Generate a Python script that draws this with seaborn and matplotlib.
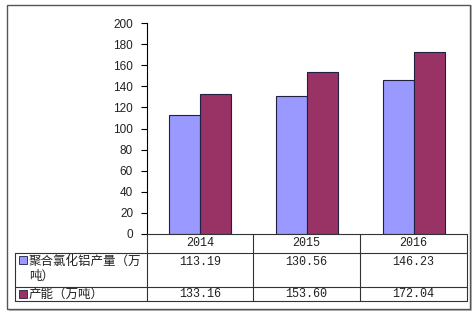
import matplotlib
matplotlib.use("Agg")
import matplotlib.pyplot as plt
import seaborn as sns
import pandas as pd
from matplotlib.patches import Rectangle
from matplotlib.lines import Line2D

years = ["2014", "2015", "2016"]
series_names = ["聚合氯化铝产量（万吨）", "产能（万吨）"]
row_labels = ["聚合氯化铝产量（万\n吨）", "产能（万吨）"]
output_vals = [113.19, 130.56, 146.23]
capacity_vals = [133.16, 153.60, 172.04]
y_ticks = [0, 20, 40, 60, 80, 100, 120, 140, 160, 180, 200]
colors = ["#9999FF", "#993366"]

sns.set_theme(style="white")
plt.rcParams["font.family"] = ["Noto Sans CJK SC", "DejaVu Sans"]

df = pd.DataFrame({
    "year": years * 2,
    "value": output_vals + capacity_vals,
    "series": [series_names[0]] * 3 + [series_names[1]] * 3,
})

W, H = 476, 314
fig = plt.figure(figsize=(W / 100, H / 100), dpi=100)
fig.patch.set_facecolor("white")

def fx(px):
    return px / W

def fy(py):
    return 1 - py / H

ax_l, ax_r, ax_t, ax_b = 147, 467, 23, 234
ax = fig.add_axes([fx(ax_l), fy(ax_b), fx(ax_r - ax_l), (ax_b - ax_t) / H])
sns.barplot(data=df, x="year", y="value", hue="series", palette=colors,
            width=0.58, edgecolor="#202040", linewidth=0.8, ax=ax,
            legend=False, saturation=1)
ax.set_ylim(0, 200)
ax.set_xlim(-0.5, 2.5)
ax.set_yticks(y_ticks)
ax.set_yticklabels([str(t) for t in y_ticks], fontsize=8.5, family="Liberation Sans", color="#222222")
ax.set_xticks([])
ax.set_xlabel("")
ax.set_ylabel("")
for s in ["top", "right", "bottom"]:
    ax.spines[s].set_visible(False)
ax.spines["left"].set_color("black")
ax.spines["left"].set_linewidth(0.8)
ax.tick_params(axis="y", direction="out", length=4, width=0.8, color="black", left=True, pad=6)

# outer frame with shadow
fig.add_artist(Rectangle((fx(9), fy(311)), fx(463), 306 / H, transform=fig.transFigure,
                         facecolor="#bbbbbb", edgecolor="none", zorder=-2))
fig.add_artist(Rectangle((fx(7), fy(309)), fx(463), 304 / H, transform=fig.transFigure,
                         facecolor="white", edgecolor="#555555", linewidth=1.0, zorder=-1))

# data table
col_edges = [15, 147, 253, 360, 467]
row_edges = [234, 253, 287, 301]
lc = "#333333"
lw = 0.8

def hline(y, x0, x1):
    fig.add_artist(Line2D([fx(x0), fx(x1)], [fy(y), fy(y)], color=lc, lw=lw, transform=fig.transFigure))

def vline(x, y0, y1):
    fig.add_artist(Line2D([fx(x), fx(x)], [fy(y0), fy(y1)], color=lc, lw=lw, transform=fig.transFigure))

hline(row_edges[0], col_edges[1], col_edges[-1])
for y in row_edges[1:]:
    hline(y, col_edges[0], col_edges[-1])
for x in col_edges[1:]:
    vline(x, row_edges[0], row_edges[-1])
vline(col_edges[0], row_edges[1], row_edges[-1])

num_font = dict(family=["Liberation Mono", "DejaVu Sans Mono"], fontsize=8.5, color="#222222")
for i, yr in enumerate(years):
    cx = (col_edges[i + 1] + col_edges[i + 2]) / 2
    fig.text(fx(cx), fy((row_edges[0] + row_edges[1]) / 2), yr, ha="center", va="center", **num_font)
    fig.text(fx(cx), fy(row_edges[1] + 9), f"{output_vals[i]:.2f}", ha="center", va="center", **num_font)
    fig.text(fx(cx), fy((row_edges[2] + row_edges[3]) / 2), f"{capacity_vals[i]:.2f}", ha="center", va="center", **num_font)

label_ys = [row_edges[1] + 16, (row_edges[2] + row_edges[3]) / 2]
for j, lab in enumerate(row_labels):
    fig.add_artist(Rectangle((fx(19), fy(label_ys[j] - (9 if j == 0 else 0) + 4)), fx(8), 8 / H,
                             transform=fig.transFigure, facecolor=colors[j], edgecolor="#202040", lw=0.6))
    fig.text(fx(29), fy(label_ys[j]), lab, ha="left", va="center", fontsize=9,
             color="#222222", linespacing=1.25)

fig.savefig("out.png", dpi=100)
